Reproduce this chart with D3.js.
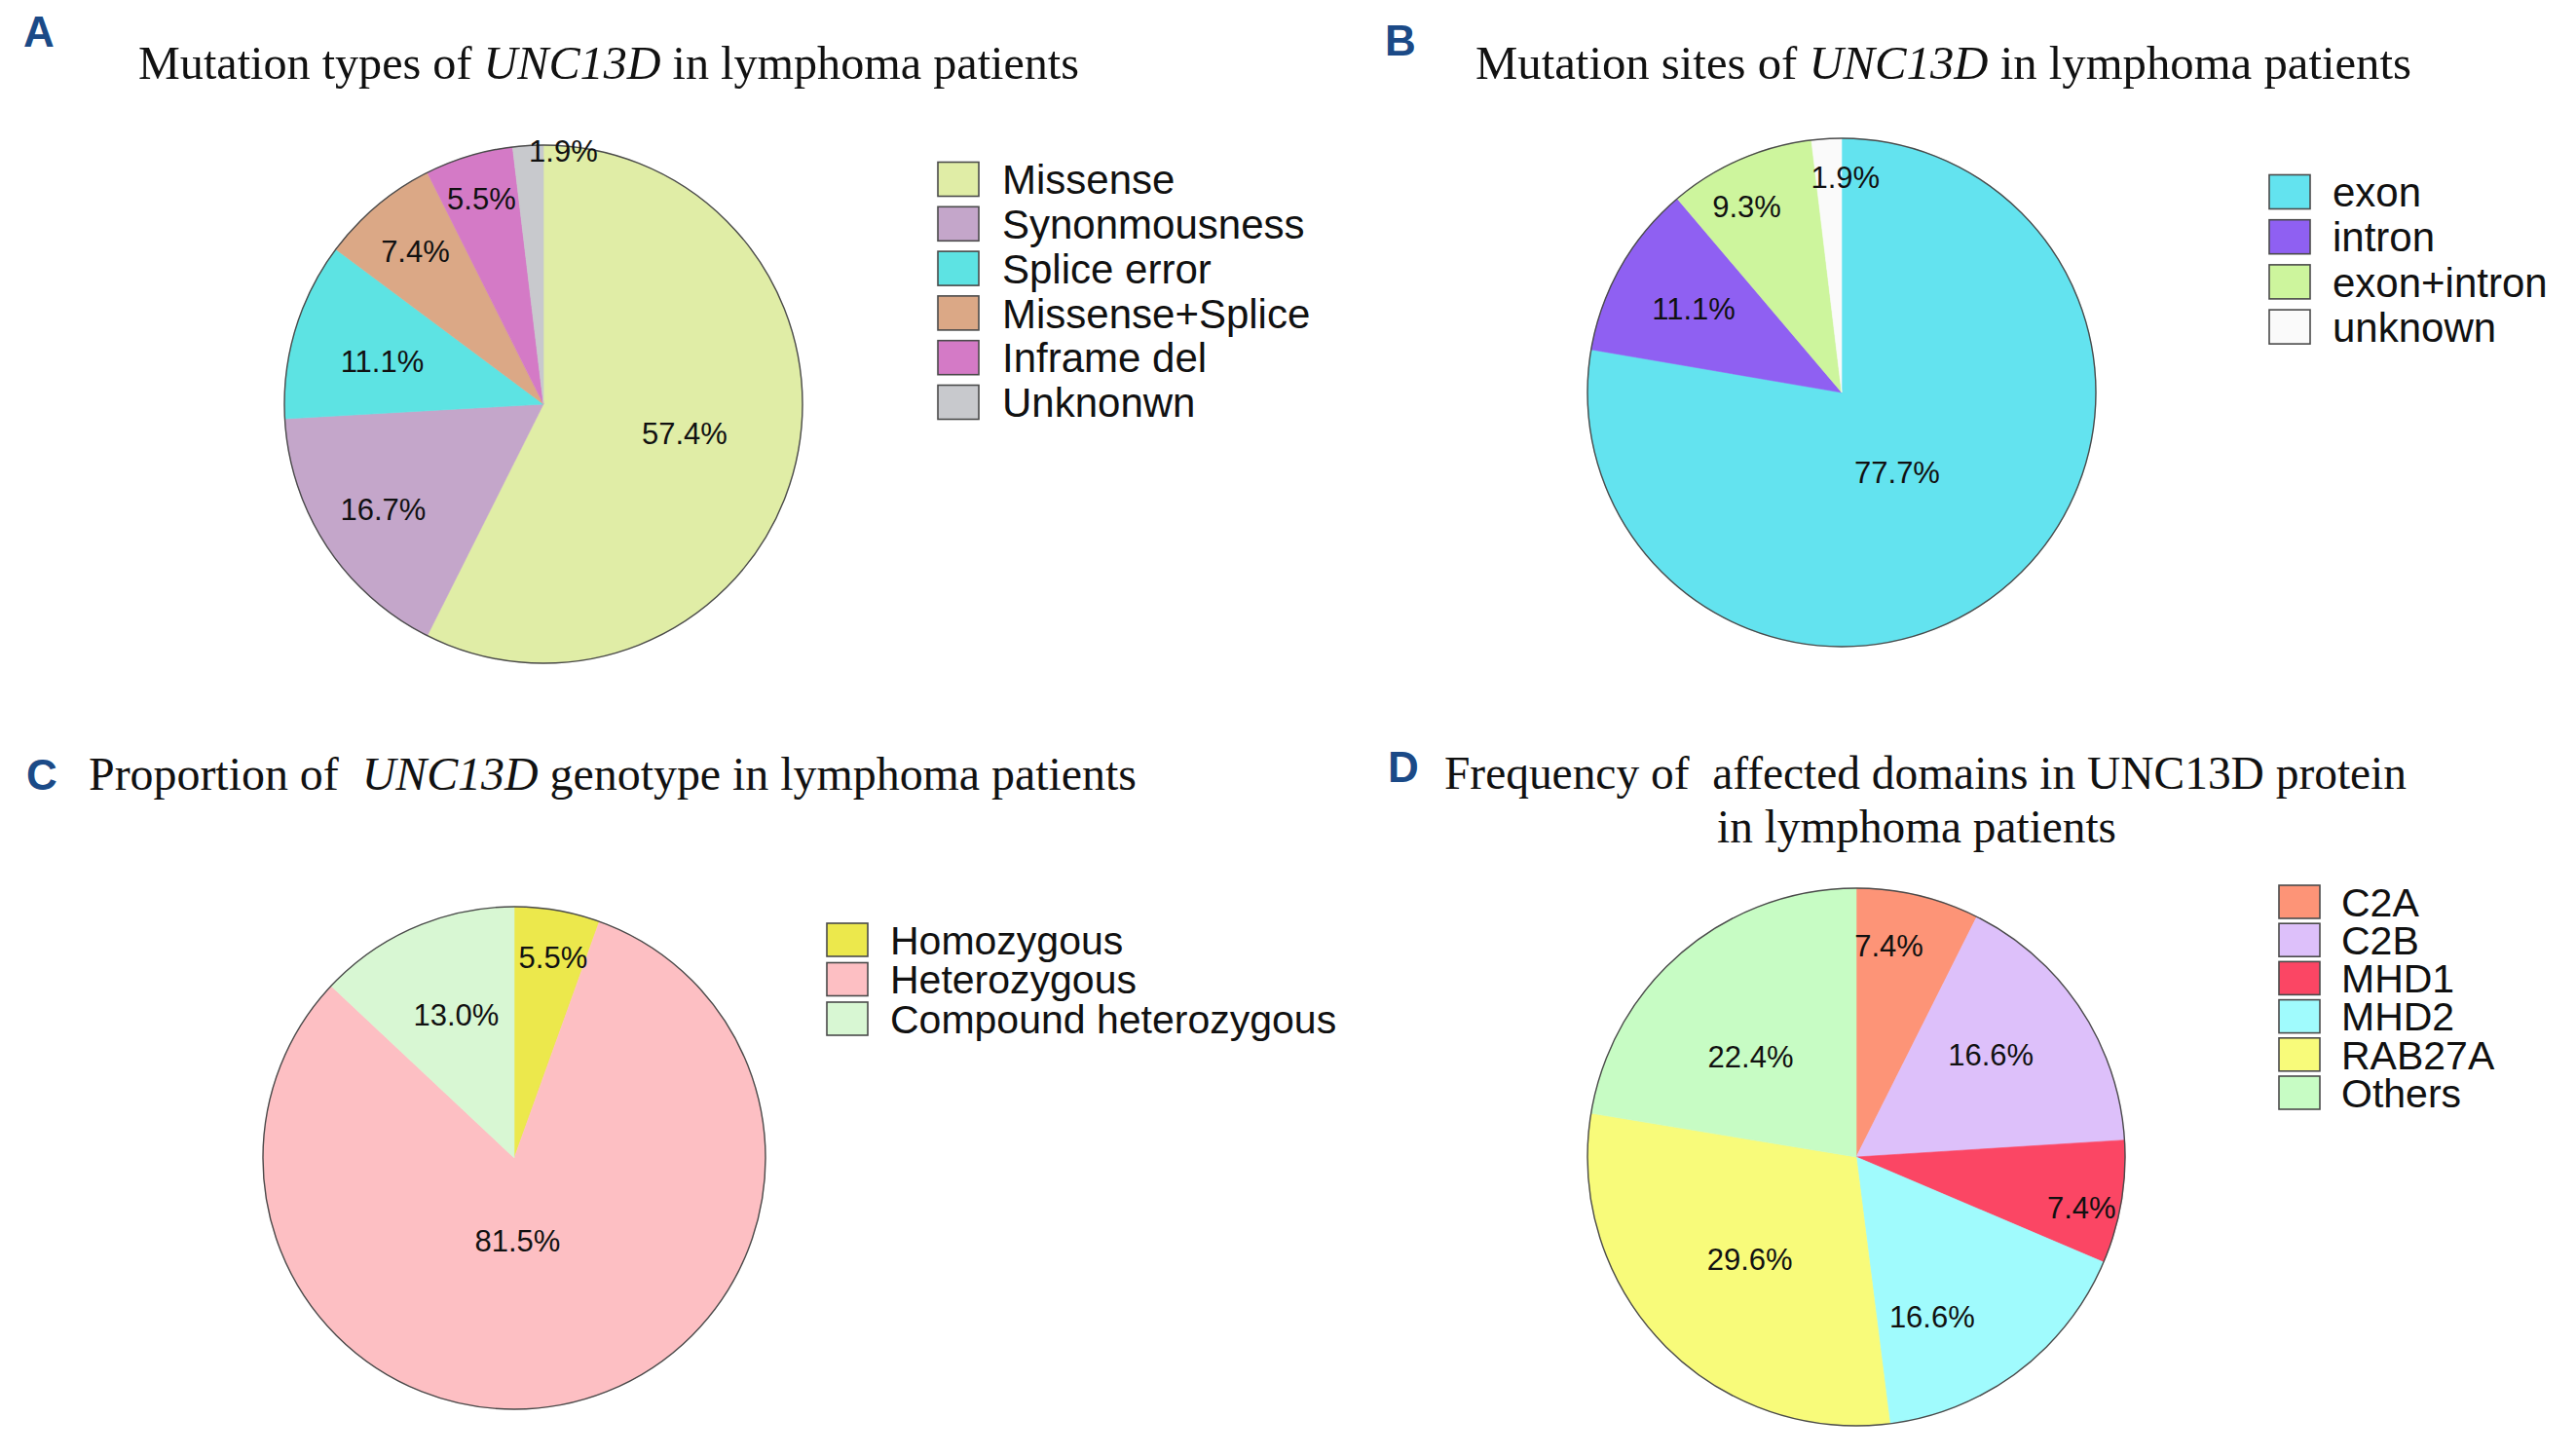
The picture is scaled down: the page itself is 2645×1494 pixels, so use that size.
<!DOCTYPE html>
<html>
<head>
<meta charset="utf-8">
<script src="https://cdn.jsdelivr.net/npm/d3@7/dist/d3.min.js"></script>
<style>
  html, body { margin: 0; padding: 0; background: #ffffff; }
  svg { display: block; }
  .title { white-space: pre; }
</style>
</head>
<body>
<svg id="chart" width="2645" height="1494"></svg>
<script>
// ---------------- DATA ----------------
const typeCategories = ["Missense", "Synonmousness", "Splice error", "Missense+Splice", "Inframe del", "Unknonwn"];
const typeValues = [57.4, 16.7, 11.1, 7.4, 5.5, 1.9];

const siteCategories = ["exon", "intron", "exon+intron", "unknown"];
const siteValues = [77.7, 11.1, 9.3, 1.9];

const genotypeCategories = ["Homozygous", "Heterozygous", "Compound heterozygous"];
const genotypeValues = [5.5, 81.5, 13.0];

const domainCategories = ["C2A", "C2B", "MHD1", "MHD2", "RAB27A", "Others"];
const domainValues = [7.4, 16.6, 7.4, 16.6, 29.6, 22.4];

// ---------------- STYLE ----------------
const typeColors = ["#e0eda6", "#c4a6ca", "#5de3e3", "#dba886", "#d47ac6", "#c8c9cd"];
const siteColors = ["#63e3ef", "#8f60f2", "#cdf59d", "#fafafa"];
const genotypeColors = ["#ece84c", "#fdbfc3", "#d8f7d3"];
const domainColors = ["#fd9477", "#ddc0fa", "#fb4664", "#a0fbfd", "#f8fb7a", "#c7fcc4"];

const SANS = "'Liberation Sans', Arial, Helvetica, sans-serif";
const SERIF = "'Liberation Serif', 'Times New Roman', Times, serif";
const LETTER_COLOR = "#1b4a87";

const svg = d3.select("#chart");

function drawPanel(cfg) {
  const g = svg.append("g");
  const pie = d3.pie().sort(null).value(d => d.value).startAngle(0).endAngle(2 * Math.PI);
  const data = cfg.categories.map((c, i) => ({ name: c, value: cfg.values[i], color: cfg.colors[i], i }));
  const arcs = pie(data);
  const arc = d3.arc().innerRadius(0).outerRadius(cfg.r);

  const pg = g.append("g").attr("transform", `translate(${cfg.cx},${cfg.cy})`);
  pg.selectAll("path.slice").data(arcs).join("path")
    .attr("class", "slice")
    .attr("d", arc)
    .attr("fill", d => d.data.color)
    .attr("stroke", d => d.data.color)
    .attr("stroke-width", 0.6);
  pg.append("circle").attr("r", cfg.r).attr("fill", "none")
    .attr("stroke", "#4a4a4a").attr("stroke-width", 1.4);

  pg.selectAll("text.lbl").data(arcs).join("text")
    .attr("class", "lbl")
    .attr("transform", d => {
      const f = cfg.labelR[d.index];
      const c = d3.arc().innerRadius(cfg.r * f).outerRadius(cfg.r * f).centroid(d);
      const off = (cfg.labelOff && cfg.labelOff[d.index]) || [0, 0];
      return `translate(${c[0] + off[0]},${c[1] + off[1]})`;
    })
    .attr("text-anchor", "middle")
    .attr("dy", "0.36em")
    .attr("font-family", SANS)
    .attr("font-size", 31)
    .attr("fill", "#111")
    .text(d => d3.format(".1f")(d.data.value) + "%");

  // legend
  const lg = g.append("g");
  const rows = lg.selectAll("g.row").data(data).join("g")
    .attr("class", "row")
    .attr("transform", (d, i) => `translate(${cfg.legX},${cfg.legY + i * cfg.legStep})`);
  rows.append("rect")
    .attr("x", 0).attr("y", -cfg.boxH / 2)
    .attr("width", 42).attr("height", cfg.boxH)
    .attr("fill", d => d.color)
    .attr("stroke", "#4a4a4a").attr("stroke-width", 1.6);
  rows.append("text")
    .attr("x", cfg.legTextDx).attr("y", 0).attr("dy", "0.36em")
    .attr("font-family", SANS).attr("font-size", cfg.legFont || 42).attr("fill", "#111")
    .text(d => d.name);

  // panel letter
  g.append("text").attr("x", cfg.letterX).attr("y", cfg.letterY)
    .attr("font-family", SANS).attr("font-weight", "bold").attr("font-size", 44)
    .attr("fill", LETTER_COLOR).text(cfg.letter);

  // title lines
  cfg.titles.forEach(t => {
    const tx = g.append("text").attr("class", "title").attr("x", t.x).attr("y", t.y)
      .attr("xml:space", "preserve")
      .attr("font-family", SERIF).attr("font-size", 48).attr("fill", "#111");
    t.parts.forEach(p => {
      tx.append("tspan").attr("font-style", p.italic ? "italic" : "normal").text(p.text);
    });
    tx.attr("textLength", t.w).attr("lengthAdjust", "spacingAndGlyphs");
  });
}

drawPanel({
  letter: "A", letterX: 24, letterY: 48,
  categories: typeCategories, values: typeValues, colors: typeColors,
  cx: 558, cy: 415, r: 266,
  labelR: [0.56, 0.74, 0.65, 0.77, 0.83, 0.98],
  labelOff: [[0, -4], [0, 0], [0, 6], [0, 0], [0, 0], [36, 0]],
  legX: 963, legY: 184, legStep: 45.8, boxH: 35, legTextDx: 66,
  titles: [{ x: 142, y: 81, w: 966, parts: [{ text: "Mutation types of " }, { text: "UNC13D", italic: true }, { text: " in lymphoma patients" }] }]
});

drawPanel({
  letter: "B", letterX: 1422, letterY: 57,
  categories: siteCategories, values: siteValues, colors: siteColors,
  cx: 1891, cy: 403, r: 261,
  labelR: [0.41, 0.67, 0.80, 0.85],
  labelOff: [[-12, 0], [0, 0], [-14, 0], [17, 0]],
  legX: 2330, legY: 197, legStep: 46.2, boxH: 35, legTextDx: 65,
  titles: [{ x: 1515, y: 81, w: 961, parts: [{ text: "Mutation sites of " }, { text: "UNC13D", italic: true }, { text: " in lymphoma patients" }] }]
});

drawPanel({
  letter: "C", letterX: 27, letterY: 811,
  categories: genotypeCategories, values: genotypeValues, colors: genotypeColors,
  cx: 528, cy: 1189, r: 258,
  labelR: [0.81, 0.34, 0.62],
  labelOff: [[4, 0], [-17, 0], [4, 0]],
  legX: 849, legY: 965, legStep: 40.5, boxH: 34, legTextDx: 65, legFont: 41,
  titles: [{ x: 91, y: 811, w: 1076, parts: [{ text: "Proportion of  " }, { text: "UNC13D", italic: true }, { text: " genotype in lymphoma patients" }] }]
});

drawPanel({
  letter: "D", letterX: 1425, letterY: 803,
  categories: domainCategories, values: domainValues, colors: domainColors,
  cx: 1906, cy: 1188, r: 276,
  labelR: [0.81, 0.60, 0.85, 0.66, 0.55, 0.54],
  labelOff: [[-18, 0], [0, -14], [0, 12], [-32, 19], [0, 0], [-12, 10]],
  legX: 2340, legY: 926, legStep: 39.2, boxH: 34, legTextDx: 64, legFont: 41,
  titles: [
    { x: 1483, y: 810, w: 988, parts: [{ text: "Frequency of  affected domains in UNC13D protein" }] },
    { x: 1763, y: 865, w: 410, parts: [{ text: "in lymphoma patients" }] }
  ]
});
</script>
</body>
</html>
